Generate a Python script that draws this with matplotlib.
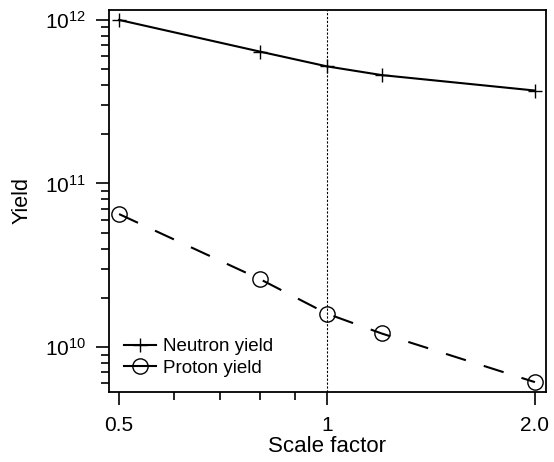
import matplotlib
matplotlib.use("Agg")
import matplotlib.pyplot as plt
from matplotlib.lines import Line2D
from matplotlib.ticker import FixedLocator, FixedFormatter, LogLocator, NullFormatter

plt.rcParams["font.family"] = ["Liberation Sans", "DejaVu Sans"]
plt.rcParams["mathtext.fontset"] = "custom"
plt.rcParams["mathtext.rm"] = "Liberation Sans"
plt.rcParams["mathtext.it"] = "Liberation Sans:italic"
plt.rcParams["mathtext.bf"] = "Liberation Sans:bold"

# ---------------------------------------------------------------------------
# Data
# ---------------------------------------------------------------------------
scale = [0.5, 0.8, 1.0, 1.2, 2.0]
neutron_yield = [1.0e12, 6.4e11, 5.2e11, 4.6e11, 3.7e11]
proton_yield = [6.5e10, 2.6e10, 1.6e10, 1.21e10, 6.1e9]

x_ticks = [0.5, 1.0, 2.0]
x_ticklabels = ["0.5", "1", "2.0"]
x_minor = [0.6, 0.7, 0.8, 0.9]

fig = plt.figure(figsize=(5.54, 4.62), dpi=100)
ax = fig.add_axes([109 / 554, 1 - 392 / 462, 437 / 554, 382 / 462])

ax.plot(scale, neutron_yield, color="black", lw=1.5, marker="+",
        markersize=9.5, markeredgewidth=1.0)
ax.plot(scale, proton_yield, color="black", lw=1.5, linestyle=(0, (10, 9)),
        marker="o", markersize=11, markerfacecolor="none", markeredgewidth=1.0)
ax.axvline(1.0, color="black", lw=0.8, linestyle=(0, (2, 1.5)))

ax.set_xscale("log")
ax.set_yscale("log")
ax.set_xlim(0.4835, 2.075)
ax.set_ylim(5.31e9, 1.15e12)

ax.xaxis.set_major_locator(FixedLocator(x_ticks))
ax.xaxis.set_major_formatter(FixedFormatter(x_ticklabels))
ax.xaxis.set_minor_locator(FixedLocator(x_minor))
ax.xaxis.set_minor_formatter(NullFormatter())
ax.yaxis.set_major_locator(LogLocator(base=10, numticks=10))
ax.yaxis.set_minor_locator(LogLocator(base=10, subs=range(2, 10), numticks=20))
ax.yaxis.set_minor_formatter(NullFormatter())

ax.tick_params(which="major", direction="out", length=9.5, width=1.2,
               labelsize=15)
ax.tick_params(which="minor", direction="out", length=5.5, width=1.2)
ax.tick_params(axis="x", which="major", pad=8)
ax.tick_params(axis="y", which="major", pad=7)
for s in ax.spines.values():
    s.set_linewidth(1.3)

ax.set_xlabel("Scale factor", fontsize=16, labelpad=0.5)
ax.set_ylabel("Yield", fontsize=15.5, labelpad=9)

handles = [
    Line2D([], [], color="black", lw=1.5, marker="+", markersize=9.5,
           markeredgewidth=1.0),
    Line2D([], [], color="black", lw=1.5, marker="o", markersize=11,
           markerfacecolor="none", markeredgewidth=1.0),
]
ax.legend(handles, ["Neutron yield", "Proton yield"], loc="lower left",
          frameon=False, fontsize=13.5, handlelength=1.7, handletextpad=0.4,
          labelspacing=0.25, borderaxespad=0.6, borderpad=0.2, numpoints=1)

fig.savefig("out.png", dpi=100)
